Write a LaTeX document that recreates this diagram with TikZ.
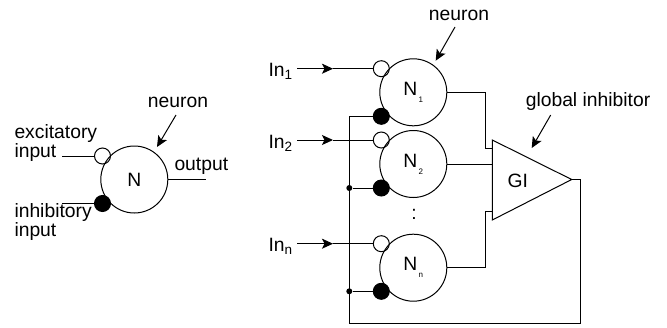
\documentclass[tikz,border=0pt]{standalone}
\usepackage{fontspec}
\setmainfont{Liberation Sans}
\usetikzlibrary{arrows.meta,positioning}

\tikzset{
  neuron/.style={draw,circle,inner sep=0pt,minimum size=67pt},
  openin/.style={draw,circle,inner sep=0pt,minimum size=16pt},
  inhin/.style={draw,circle,fill=black,inner sep=0pt,minimum size=16pt},
  joint/.style={circle,fill=black,inner sep=0pt,minimum size=6pt},
  lab/.style={inner sep=0pt,align=left,font=\fontsize{19.3}{16}\selectfont},
  tip/.style={-{Stealth[length=11pt,width=10pt,inset=2.5pt]}}
}
\newcommand{\nsub}[1]{N\raisebox{-7pt}{\fontsize{8}{8}\selectfont\,#1}}

\begin{document}
\begin{tikzpicture}[x=1pt,y=-1pt,line width=1pt,node distance=103.7pt]
  \useasboundingbox (0,0) rectangle (667,327);

  % single neuron
  \node[neuron,lab] (N) at (134.3,179.5) {N};
  \node[openin] (e) at (102.5,156) {};
  \node[inhin] (i) at (102.5,203.5) {};
  \node[lab,anchor=west] (exc) at (14,143) {excitatory\\input};
  \node[lab,anchor=west] (inh) at (14,222) {inhibitory\\input};
  \node[lab,anchor=west] (out) at (174,166) {output};
  \node[lab] (nl) at (178,102) {neuron};
  \coordinate (ein) at (62,156);
  \coordinate (iin) at (62,203.5);
  \coordinate (outend) at (206,179.5);
  \coordinate (nlend) at (157,147);
  \coordinate (nlstart) at (176,115);
  \draw (ein) -- (e);
  \draw (iin) -- (i);
  \draw (N) -- (outend);
  \draw[tip] (nlstart) -- (nlend);

  % network
  \node[neuron,lab] (N2) at (413.3,164) {\nsub{2}};
  \node[neuron,lab] (N1) at (413.3,92.3) {\nsub{1}};
  \node[neuron,lab] (Nn) [below of=N2] {\nsub{n}};
  \node[openin] (e1) at (381.3,68.7) {};
  \node[inhin] (i1) at (381.3,116.3) {};
  \node[openin] (e2) at (381.3,140) {};
  \node[inhin] (i2) at (381.3,188) {};
  \node[openin] (en) at (381.3,243.7) {};
  \node[inhin] (in) at (381.3,291.3) {};
  \node[lab,anchor=west] (In1) at (268,71) {In\textsubscript{1}};
  \node[lab,anchor=west] (In2) at (268,143) {In\textsubscript{2}};
  \node[lab,anchor=west] (Inn) at (268,246) {In\textsubscript{n}};
  \node[lab] (dots) at (414,214) {:};
  \node[lab] (nl2) at (459,15) {neuron};
  \node[lab] (gl) at (588,102) {global inhibitor};
  \coordinate (a1) at (333,68.7);
  \coordinate (a2) at (333,140);
  \coordinate (an) at (333,243.7);
  \coordinate (s1) at (297,68.7);
  \coordinate (s2) at (297,140);
  \coordinate (sn) at (297,243.7);
  \draw[tip] (s1) -- (a1);
  \draw[tip] (s2) -- (a2);
  \draw[tip] (sn) -- (an);
  \draw (a1) -- (e1);
  \draw (a2) -- (e2);
  \draw (an) -- (en);

  % global inhibitor
  \coordinate (g1) at (492.3,140);
  \coordinate (g2) at (492.3,220);
  \coordinate (gt) at (571.7,179.5);
  \draw (g1) -- (gt) -- (g2) -- cycle;
  \node[lab] (GI) at (517.7,181) {GI};
  \draw (N1) -- (485,92.3) |- (492.3,148);
  \draw (N2) -- (492.3,164);
  \draw (Nn) -- (485,267.7) |- (492.3,211.7);

  % feedback
  \node[joint] (j2) at (349.3,188) {};
  \node[joint] (jn) at (349.3,291.3) {};
  \draw (gt) -- (580.7,179.5) |- (349.3,323) -- (349.3,116.3) -- (i1);
  \draw (j2) -- (i2);
  \draw (jn) -- (in);

  \coordinate (nl2s) at (455,27);
  \coordinate (nl2e) at (435.7,60.7);
  \coordinate (gls) at (550.7,115);
  \coordinate (gle) at (531.7,148);
  \draw[tip] (nl2s) -- (nl2e);
  \draw[tip] (gls) -- (gle);
\end{tikzpicture}
\end{document}
